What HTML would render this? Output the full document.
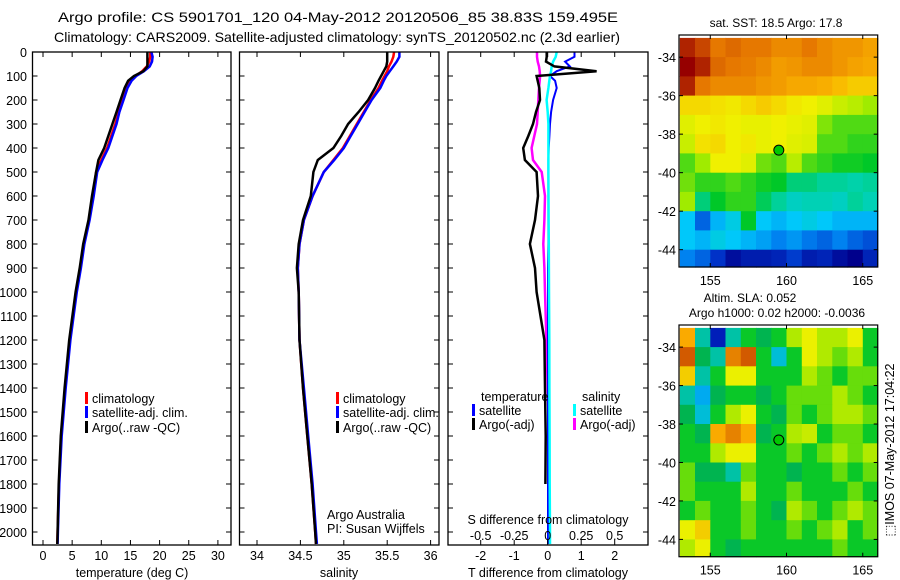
<!DOCTYPE html>
<html><head><meta charset="utf-8"><title>Argo profile</title>
<style>
html,body{margin:0;padding:0;background:#fff;}
svg{display:block;font-family:"Liberation Sans",sans-serif;}
text{fill:#000;}
</style></head>
<body>
<svg id="fig" width="900" height="580" viewBox="0 0 900 580" xmlns="http://www.w3.org/2000/svg">
<rect width="900" height="580" fill="#fff"/>
<text x="338" y="22" font-size="14" text-anchor="middle" textLength="560" lengthAdjust="spacingAndGlyphs">Argo profile: CS 5901701_120 04-May-2012 20120506_85 38.83S 159.495E</text>
<text x="337" y="42" font-size="14" text-anchor="middle" textLength="566" lengthAdjust="spacingAndGlyphs">Climatology: CARS2009. Satellite-adjusted climatology: synTS_20120502.nc (2.3d earlier)</text>
<g id="g1"></g>
<g id="g2"></g>
<g id="g3"></g>
<g id="m1"></g>
<g id="m2"></g>
<text transform="translate(894,450) rotate(-90)" font-size="12.5" text-anchor="middle">⬚IMOS 07-May-2012 17:04:22</text>
</svg>
<script>
// ---------- data ----------
const depths = [0,20,40,60,80,100,120,150,200,250,300,350,400,450,500,600,700,800,900,1000,1200,1400,1600,1800,2000,2050];
const tempClim = [18.4,18.4,18.2,17.8,17.0,15.9,15.0,14.3,13.6,13.0,12.4,11.7,11.0,10.0,9.1,8.6,7.9,7.0,6.4,5.7,4.6,3.8,3.1,2.75,2.5,2.45];
const tempSat  = [18.6,18.8,18.7,18.3,17.3,16.0,15.2,14.5,13.8,13.1,12.6,11.9,11.2,10.2,9.3,8.7,8.0,7.1,6.5,5.8,4.7,3.9,3.2,2.8,2.55,2.5];
const tempArgo = [17.9,17.9,17.9,17.9,17.2,15.6,14.6,14.0,13.3,12.6,11.9,11.2,10.5,9.5,9.1,8.4,7.8,6.9,6.3,5.6,4.5,3.7,3.05,2.7,2.5,2.45];
const salClim  = [35.58,35.57,35.55,35.52,35.50,35.47,35.44,35.40,35.31,35.23,35.15,35.07,34.99,34.88,34.77,34.64,34.54,34.49,34.47,34.48,34.49,34.53,34.58,34.63,34.67,34.68];
const salSat   = [35.64,35.64,35.61,35.57,35.53,35.49,35.46,35.42,35.32,35.24,35.16,35.08,35.00,34.89,34.77,34.64,34.54,34.49,34.47,34.48,34.49,34.54,34.59,34.64,34.68,34.69];
const salArgo  = [35.50,35.50,35.50,35.49,35.46,35.43,35.40,35.36,35.28,35.17,35.05,34.97,34.88,34.70,34.65,34.62,34.53,34.48,34.46,34.48,34.49,34.53,34.58,34.63,34.67,34.68];
const dTsat  = [0.8,0.8,0.52,0.66,0.27,0.07,0.22,0.27,0.16,0.1,0.07,0.05,0.03,0.02,0.02,0.02,0.02,0.02,0.01,0.01,0.01,0.01,0.01,0.01,0.01,0.01];
const dTargo = [-0.03,-0.03,-0.05,0.2,1.46,-0.33,-0.3,-0.25,-0.23,-0.35,-0.44,-0.58,-0.73,-0.68,-0.33,-0.29,-0.38,-0.53,-0.38,-0.33,-0.1,-0.08,-0.06,-0.07,null,null];
const dSsat  = [0.067,0.06,0.04,0.03,0.025,0.017,0.012,0.005,-0.008,0.0,0.005,0.005,0.005,0.005,0.005,0.006,0.007,0.008,0.009,0.01,0.012,0.013,0.014,0.015,0.017,0.017];
const dSargo = [-0.08,-0.08,-0.075,-0.065,-0.06,-0.057,-0.06,-0.065,-0.07,-0.075,-0.08,-0.1,-0.12,-0.11,-0.045,-0.02,-0.025,-0.033,-0.025,-0.02,-0.01,0.0,0.01,0.01,0.012,0.012];
const depthTicks = [0,100,200,300,400,500,600,700,800,900,1000,1100,1200,1300,1400,1500,1600,1700,1800,1900,2000];
const tempTicks = [0,5,10,15,20,25,30];
const salTicks = [34,34.5,35,35.5,36];
const salTickLabels = ["34","34.5","35","35.5","36"];
const dTTicks = [-2,-1,0,1,2];
const dSTicks = [-0.5,-0.25,0,0.25,0.5];
const dSTickLabels = ["-0.5","-0.25","0","0.25","0.5"];
const mapLons = [153.5,154.5,155.5,156.5,157.5,158.5,159.5,160.5,161.5,162.5,163.5,164.5,165.5];
const mapLats = [-33.5,-34.5,-35.5,-36.5,-37.5,-38.5,-39.5,-40.5,-41.5,-42.5,-43.5,-44.5];
const sst = [
[21.5,21,20.3,20.5,20.3,20.3,20,20,20.3,20,19.8,19.8,19.6],
[22,21.5,20.5,20.3,20.2,20,19.7,19.8,20,20,19.8,19.6,19.5],
[21.5,20.3,20,20,20,19.8,19.7,19.5,19.5,19.4,19.2,19,19],
[18.8,18.8,18.7,18.6,18.8,19,18.8,18.6,18.5,18.3,18,17.8,17.5],
[18.3,18.5,18.6,18.5,18.4,18.4,18.5,18.4,18.3,17.3,17,17,17],
[18,18.7,18.8,18.5,18.6,18.4,18.5,18.3,18.2,17,17,16.8,16.8],
[17,17.5,18.5,18.5,18.3,17.2,17,17.8,17,16.8,16.6,16.6,16.5],
[17.2,16.8,16.8,17,16.8,16.6,16.5,16,16,15.8,15.8,15.7,15.8],
[17.5,16,16.5,16.8,16.8,16.2,15.8,15.5,15.6,15.6,15.5,15.8,15.6],
[15,14,14.8,15.2,16.5,15,14.8,15,15.2,15,14.8,14.8,14.8],
[15,14.8,15.2,15,14.8,14.6,14.3,14.5,14.2,14,14.3,14,13.8],
[14.3,14,13.5,13,13.2,13.2,13.3,13.6,13.2,13.3,13,12.8,13.3]];
const sla = [
[0.25,-0.1,-0.35,-0.1,0,-0.05,0,0.1,0.15,0.1,0.1,0.15,0],
[0.35,-0.05,-0.1,0.3,0.35,0,-0.15,0,0.15,0.1,0.05,0.1,0],
[0.2,-0.1,0,0.15,0.15,0,0,0,0.1,0.05,0,0.05,0.05],
[-0.1,-0.2,-0.05,0,0,-0.05,0,0.05,0.05,0.05,0.1,0.05,0],
[-0.05,-0.15,0,0.1,0.15,0,-0.05,0.05,0,0.05,0.1,0.1,0.05],
[0,-0.05,0.25,0.3,0.25,-0.05,0,0.1,0.12,0,0.05,0.05,0],
[0,0,0.1,0.15,0.15,0,0,0.05,0,0.05,0.1,0.05,0.1],
[0.05,-0.05,-0.05,-0.1,0.05,0,0,-0.05,0,0,0.05,0,0.05],
[0.05,0,0,0,0.1,0,0,0.05,0,0,0,0.05,0],
[0,0.05,0,0,0.05,0,-0.05,0.1,0.05,0,0.05,0.1,0.05],
[0.15,0.2,0,0,0.05,0,0,0.05,0,0.05,0.1,0,0.05],
[0.1,0.15,0,-0.05,0,0,0,0,0,0,0.05,0,0]];
const lonTicks = [155,160,165];
const latTicks = [-34,-36,-38,-40,-42,-44];
const argoPos = [159.495,-38.83];

// ---------- helpers ----------
const NS="http://www.w3.org/2000/svg";
function mk(parent,tag,attrs){const e=document.createElementNS(NS,tag);for(const k in attrs)e.setAttribute(k,attrs[k]);parent.appendChild(e);return e;}
const TOP=52, BOT=545;
const yD = d => TOP + d*0.24;
function frame(g,x0,x1){
  const r=mk(g,'rect',{x:x0,y:TOP,width:x1-x0,height:BOT-TOP,fill:'none',stroke:'#000','stroke-width':1.3});
  
  
  depthTicks.forEach(d=>{
    mk(g,'line',{x1:x0,x2:x0+5,y1:yD(d),y2:yD(d),stroke:'#000'});
    mk(g,'line',{x1:x1-5,x2:x1,y1:yD(d),y2:yD(d),stroke:'#000'});
  });
}
function xticks(g,vals,labels,sx){
  vals.forEach((v,i)=>{
    mk(g,'line',{x1:sx(v),x2:sx(v),y1:BOT,y2:BOT-5,stroke:'#000'});
    mk(g,'line',{x1:sx(v),x2:sx(v),y1:TOP,y2:TOP+5,stroke:'#000'});
    const t=mk(g,'text',{x:sx(v),y:560,'font-size':12.5,'text-anchor':'middle'});
    t.textContent=labels[i];
    
    
  });
}
function line(g,vals,sx,color,w,name){
  let d='';let pen=false;
  vals.forEach((v,i)=>{ if(v===null){pen=false;return;} d+=(pen?'L':'M')+sx(v).toFixed(1)+','+yD(depths[i]).toFixed(1); pen=true;});
  const p=mk(g,'path',{d:d,fill:'none',stroke:color,'stroke-width':w,'stroke-linejoin':'miter'});
  
  
}
function txt(g,x,y,s,fs,anchor,name){
  const t=mk(g,'text',{x:x,y:y,'font-size':fs,'text-anchor':anchor||'start'});
  t.textContent=s;
  
  
  return t;
}
function legendEntry(g,x,y,color,label){
  const r=mk(g,'rect',{x:x,y:y-11,width:3,height:12,fill:color});
  
  
  txt(g,x+7,y,label,12.5,'start','legend-entry');
}

// ---------- panel 1: temperature ----------
const g1=document.getElementById('g1');
const sxT = v => 43 + v*5.83;
line(g1,tempClim,sxT,'#f00',2.5,'temp-climatology-line');
line(g1,tempSat,sxT,'#00f',2.5,'temp-satellite-line');
line(g1,tempArgo,sxT,'#000',2.5,'temp-argo-line');
frame(g1,32.5,231);
xticks(g1,tempTicks,tempTicks.map(String),sxT);
depthTicks.forEach(d=>txt(g1,27,yD(d)+5,String(d),12.5,'end','y-tick-label'));
txt(g1,132,577,'temperature (deg C)',12.5,'middle','x-axis-title');
legendEntry(g1,85,403,'#f00','climatology');
legendEntry(g1,85,417,'#00f','satellite-adj. clim.');
legendEntry(g1,85,432,'#000','Argo(..raw -QC)');

// ---------- panel 2: salinity ----------
const g2=document.getElementById('g2');
const sxS = v => 257 + (v-34)*86.8;
line(g2,salClim,sxS,'#f00',2.5,'sal-climatology-line');
line(g2,salSat,sxS,'#00f',2.5,'sal-satellite-line');
line(g2,salArgo,sxS,'#000',2.5,'sal-argo-line');
frame(g2,239.5,439);
xticks(g2,salTicks,salTickLabels,sxS);
txt(g2,339,577,'salinity',12.5,'middle','x-axis-title');
legendEntry(g2,336,403,'#f00','climatology');
legendEntry(g2,336,417,'#00f','satellite-adj. clim.');
legendEntry(g2,336,432,'#000','Argo(..raw -QC)');
txt(g2,327,519,'Argo Australia',12.5,'start','credit-text');
txt(g2,327,533,'PI: Susan Wijffels',12.5,'start','credit-pi-text');

// ---------- panel 3: differences ----------
const g3=document.getElementById('g3');
const sxD = v => 547.7 + v*33.5;
const sxDS = v => sxD(v*4);
line(g3,dSargo,sxDS,'#f0f',2.5,'sal-diff-argo-line');
line(g3,dTsat,sxD,'#00f',2,'temp-diff-satellite-line');
line(g3,dSsat,sxDS,'#0ff',2.5,'sal-diff-satellite-line');
line(g3,dTargo,sxD,'#000',2.5,'temp-diff-argo-line');
frame(g3,448,648);
xticks(g3,dTTicks,dTTicks.map(String),sxD);
dSTicks.forEach((v,i)=>txt(g3,sxDS(v),540,dSTickLabels[i],12.5,'middle','s-tick-label'));
txt(g3,548,524,'S difference from climatology',12.5,'middle','s-axis-title');
txt(g3,548,577,'T difference from climatology',12.5,'middle','x-axis-title');
txt(g3,481,401,'temperature',12.5,'start','legend-header-temperature');
txt(g3,582,401,'salinity',12.5,'start','legend-header-salinity');
legendEntry(g3,472,415,'#00f','satellite');
legendEntry(g3,472,429,'#000','Argo(-adj)');
legendEntry(g3,573,415,'#0ff','satellite');
legendEntry(g3,573,429,'#f0f','Argo(-adj)');

// ---------- maps ----------
function cmap(stops,v){
  if(v<=stops[0][0])return 'rgb('+stops[0][1].join(',')+')';
  for(let i=1;i<stops.length;i++){
    if(v<=stops[i][0]){const a=stops[i-1],b=stops[i];const f=(v-a[0])/(b[0]-a[0]);
      return 'rgb('+a[1].map((c,k)=>Math.round(c+(b[1][k]-c)*f)).join(',')+')';}
  }
  return 'rgb('+stops[stops.length-1][1].join(',')+')';
}
const sstStops=[[12.8,[0,0,140]],[13.5,[0,50,200]],[14.3,[0,130,240]],[15.0,[0,200,250]],[15.7,[0,210,170]],[16.5,[0,200,40]],[17.5,[160,235,0]],[18.5,[240,240,0]],[19.3,[250,180,0]],[20.3,[230,120,0]],[21,[200,70,0]],[22,[150,0,0]]];
const slaStops=[[-0.4,[0,0,150]],[-0.3,[0,60,220]],[-0.2,[0,170,240]],[-0.12,[0,200,200]],[-0.05,[0,180,80]],[0.0,[10,200,40]],[0.07,[140,230,0]],[0.15,[235,240,0]],[0.25,[250,170,0]],[0.35,[210,90,0]]];
function drawMap(id,grid,stops,y0,y1){
  const g=document.getElementById(id);
  const x0=679,x1=877.7;
  const sx = lon => x0 + (lon-152.95)*15.25;
  const sy = lat => y0 + (-32.85-lat)*(y1-y0)/12.05;
  grid.forEach((row,r)=>row.forEach((v,c)=>{
    const cx=sx(mapLons[c]-0.5), cy=sy(mapLats[r]+0.5);
    const cell=mk(g,'rect',{x:Math.max(x0,cx).toFixed(1),y:Math.max(y0,cy).toFixed(1),
      width:(Math.min(x1,sx(mapLons[c]+0.5))-Math.max(x0,cx)+0.6).toFixed(1),
      height:(Math.min(y1,sy(mapLats[r]-0.5))-Math.max(y0,cy)+0.6).toFixed(1),fill:cmap(stops,v)});
    
    
  }));
  const fr=mk(g,'rect',{x:x0,y:y0,width:x1-x0,height:y1-y0,fill:'none',stroke:'#000','stroke-width':1.2});
  
  
  lonTicks.forEach(l=>{
    mk(g,'line',{x1:sx(l),x2:sx(l),y1:y1,y2:y1-4,stroke:'#000'});
    mk(g,'line',{x1:sx(l),x2:sx(l),y1:y0,y2:y0+4,stroke:'#000'});
    txt(g,sx(l),y1+18,String(l),12.5,'middle','lon-tick-label');
  });
  latTicks.forEach(l=>{
    mk(g,'line',{x1:x0,x2:x0+4,y1:sy(l),y2:sy(l),stroke:'#000'});
    mk(g,'line',{x1:x1,x2:x1-4,y1:sy(l),y2:sy(l),stroke:'#000'});
    txt(g,676,sy(l)+5,String(l),12.5,'end','lat-tick-label');
  });
  const m=mk(g,'circle',{cx:sx(argoPos[0]),cy:sy(argoPos[1]),r:5,fill:'#00c800',stroke:'#000','stroke-width':1});
  
  
}
drawMap('m1',sst,sstStops,35,267);
drawMap('m2',sla,slaStops,325,556.7);
const m1=document.getElementById('m1'), m2=document.getElementById('m2');
txt(m1,776,27,'sat. SST: 18.5 Argo: 17.8',12,'middle','sst-map-title');
txt(m2,750,302,'Altim. SLA: 0.052',12,'middle','sla-map-title');
txt(m2,777,317,'Argo h1000: 0.02 h2000: -0.0036',12,'middle','sla-map-subtitle');
</script>
</body></html>
